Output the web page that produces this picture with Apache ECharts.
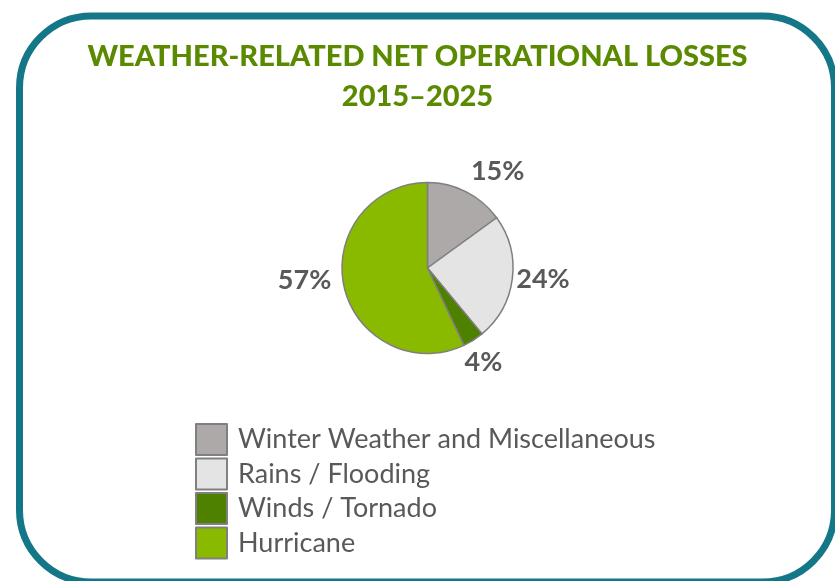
<!DOCTYPE html>
<html><head><meta charset="utf-8">
<script src="https://cdn.jsdelivr.net/npm/echarts@6/dist/echarts.min.js"></script>
<style>html,body{margin:0;padding:0;background:#fff}#c{width:835px;height:581px}</style>
</head><body><div id="c"></div>
<script>
const titleLines = ['WEATHER-RELATED NET OPERATIONAL LOSSES', '2015–2025'];
const categories = ['Winter Weather and Miscellaneous', 'Rains / Flooding', 'Winds / Tornado', 'Hurricane'];
const values = [15, 24, 4, 57];
const colors = ['#ada9a8', '#e4e4e4', '#4f8100', '#8aba00'];
// label nudges (text placement only)
const labelNudge = [[-8, -13], [-13, 0], [-22, 15], [4, -8]];

const chart = echarts.init(document.getElementById('c'), null, {renderer: 'canvas'});
chart.setOption({
  animation: false,
  graphic: [{
    type: 'rect', left: 16, top: 12.5,
    shape: {width: 815, height: 566, r: 72},
    style: {fill: 'none', stroke: '#137788', lineWidth: 7}
  }],
  title: {
    text: titleLines.join('\n'),
    left: 'center', top: 32,
    textStyle: {fontFamily: 'Lato', fontWeight: 900, fontSize: 29, color: '#5a8a00', lineHeight: 40}
  },
  legend: {
    orient: 'vertical', left: 195, top: 423, padding: 0,
    itemWidth: 31, itemHeight: 31, itemGap: 1.5,
    icon: 'rect',
    itemStyle: {borderColor: '#808080', borderWidth: 2},
    textStyle: {fontFamily: 'Lato', fontSize: 27, color: '#595959', lineHeight: 31, padding: [0, 0, 0, 6]},
    data: categories
  },
  series: [{
    type: 'pie',
    center: [427.5, 268], radius: 85.5,
    startAngle: 90, clockwise: true,
    itemStyle: {borderColor: '#7f7f7f', borderWidth: 1.5},
    label: {
      show: true, position: 'outside',
      formatter: p => p.value + '%',
      fontFamily: 'Lato', fontWeight: 'bold', fontSize: 27, color: '#595959'
    },
    labelLine: {show: false, length: 8, length2: 4},
    labelLayout: p => ({dx: labelNudge[p.dataIndex][0], dy: labelNudge[p.dataIndex][1]}),
    emphasis: {disabled: true},
    data: categories.map((n, i) => ({name: n, value: values[i], itemStyle: {color: colors[i]}}))
  }]
});
</script></body></html>
